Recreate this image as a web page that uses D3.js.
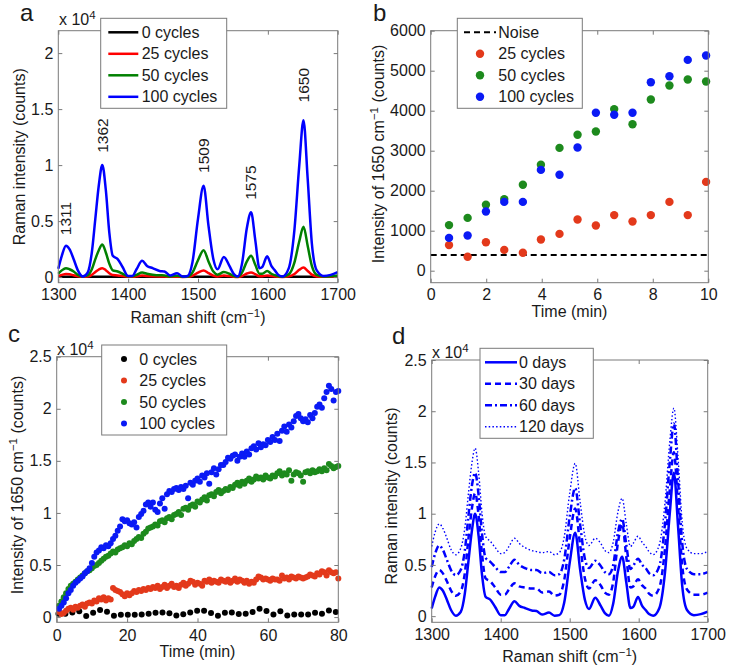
<!DOCTYPE html>
<html><head><meta charset="utf-8">
<script src="https://cdn.jsdelivr.net/npm/d3@7"></script>
<style>
body{margin:0;background:#fff;}
svg{font-family:"Liberation Sans",Arial,Helvetica,sans-serif;}
</style></head><body>
<svg id="chart" width="731" height="669"></svg>
<script>
// ---------------- DATA ----------------
// Panel a / d : Raman shift axis (cm^-1), intensities in units of 1e4 counts
const shift = [1300,1305,1311,1316,1322,1328,1335,1342,1348,1353,1358,1363,1368,1373,1378,1385,1392,1400,1406,1412,1420,1427,1435,1445,1452,1460,1470,1478,1485,1492,1500,1508,1515,1522,1528,1537,1545,1551,1557,1563,1570,1576,1582,1588,1592,1599,1605,1610,1615,1621,1630,1638,1645,1651,1657,1663,1670,1680,1690,1700];
const cycles0 = [0.003,0.003,0.003,0.003,0.003,0.003,0.003,0.003,0.003,0.003,0.003,0.003,0.003,0.003,0.003,0.003,0.003,0.003,0.003,0.003,0.003,0.003,0.003,0.003,0.003,0.003,0.003,0.003,0.003,0.003,0.003,0.003,0.003,0.003,0.003,0.003,0.003,0.003,0.003,0.003,0.003,0.003,0.003,0.003,0.003,0.003,0.003,0.003,0.003,0.003,0.003,0.003,0.003,0.003,0.003,0.003,0.003,0.003,0.003,0.003];
const cycles25 = [0.01,0.02,0.028,0.025,0.016,0.008,0.003,0.006,0.02,0.045,0.068,0.08,0.062,0.035,0.018,0.015,0.009,0.003,0.003,0.007,0.014,0.01,0.008,0.006,0.005,0.003,0.004,0.002,0.003,0.012,0.04,0.06,0.036,0.013,0.006,0.014,0.009,0.004,0.002,0.01,0.032,0.042,0.026,0.007,0.008,0.014,0.009,0.006,0.003,0.002,0.007,0.028,0.065,0.085,0.055,0.022,0.006,0.003,0.003,0.004];
const cycles50 = [0.03,0.06,0.08,0.07,0.05,0.02,0.006,0.015,0.07,0.16,0.24,0.29,0.22,0.12,0.06,0.05,0.03,0.008,0.008,0.02,0.04,0.03,0.022,0.016,0.015,0.006,0.012,0.004,0.005,0.04,0.15,0.24,0.14,0.05,0.022,0.045,0.03,0.01,0.004,0.04,0.14,0.19,0.11,0.03,0.03,0.055,0.03,0.018,0.008,0.004,0.025,0.13,0.32,0.45,0.28,0.1,0.02,0.006,0.008,0.015];
const cycles100 = [0.075,0.19,0.28,0.25,0.16,0.06,0.005,0.04,0.22,0.52,0.82,1.0,0.78,0.4,0.19,0.16,0.09,0.01,0.01,0.07,0.145,0.1,0.08,0.055,0.05,0.015,0.035,0.005,0.01,0.13,0.52,0.815,0.46,0.16,0.07,0.18,0.1,0.03,0.005,0.12,0.44,0.58,0.33,0.08,0.09,0.186,0.1,0.06,0.02,0.005,0.08,0.42,1.0,1.4,0.88,0.3,0.06,0.01,0.02,0.045];
const peakPos = [1311,1363,1508,1575,1651];
const peakText = ["1311","1362","1509","1575","1650"];
const peakTextY = [0.374,1.11,0.93,0.69,1.56];

// Panel d : storage days (units of 1e4 counts)
const days0 = [0.075,0.19,0.28,0.25,0.16,0.06,0.005,0.04,0.22,0.52,0.82,1.0,0.78,0.4,0.19,0.16,0.09,0.01,0.01,0.07,0.145,0.1,0.08,0.055,0.05,0.015,0.035,0.005,0.01,0.13,0.52,0.815,0.46,0.16,0.07,0.18,0.1,0.03,0.005,0.12,0.44,0.58,0.33,0.08,0.09,0.186,0.1,0.06,0.02,0.005,0.08,0.42,1.0,1.4,0.88,0.3,0.06,0.01,0.02,0.045];
const days30 = [0.28,0.39,0.45,0.42,0.34,0.25,0.2,0.24,0.42,0.74,1.04,1.2,0.98,0.6,0.37,0.34,0.28,0.21,0.21,0.26,0.32,0.29,0.28,0.27,0.27,0.23,0.24,0.2,0.21,0.35,0.76,1.05,0.7,0.37,0.27,0.35,0.3,0.23,0.21,0.33,0.72,0.9,0.58,0.28,0.29,0.36,0.3,0.27,0.22,0.2,0.28,0.65,1.23,1.6,1.08,0.5,0.26,0.21,0.21,0.23];
const days60 = [0.48,0.61,0.69,0.65,0.55,0.45,0.4,0.45,0.64,0.96,1.26,1.4,1.18,0.8,0.57,0.53,0.48,0.43,0.43,0.48,0.55,0.5,0.47,0.45,0.45,0.42,0.43,0.4,0.41,0.55,0.97,1.25,0.9,0.56,0.47,0.54,0.49,0.43,0.41,0.5,0.82,0.95,0.7,0.46,0.49,0.56,0.5,0.47,0.42,0.4,0.49,0.9,1.5,1.88,1.33,0.72,0.46,0.41,0.41,0.43];
const days120 = [0.68,0.82,0.9,0.86,0.76,0.65,0.6,0.66,0.86,1.18,1.48,1.64,1.4,1.0,0.78,0.73,0.67,0.61,0.62,0.68,0.76,0.71,0.67,0.64,0.63,0.62,0.63,0.6,0.62,0.77,1.2,1.49,1.12,0.78,0.69,0.76,0.71,0.64,0.62,0.72,1.02,1.15,0.9,0.68,0.71,0.78,0.72,0.68,0.63,0.6,0.7,1.1,1.7,2.03,1.55,0.92,0.66,0.61,0.61,0.63];

// Panel b : time (min) and 1650 cm^-1 intensity (counts)
const timeB = [0.66,1.33,1.99,2.65,3.32,3.97,4.64,5.29,5.95,6.61,7.27,7.93,8.6,9.26,9.92];
const b25 = [640,350,710,520,450,780,920,1280,1130,1390,1230,1390,1720,1390,2220];
const b50 = [1140,1320,1650,1790,2150,2650,3070,3400,3480,4040,3660,4280,4630,4780,4730];
const b100 = [820,880,1480,1720,1720,2520,2400,3080,3950,3900,3950,4710,4860,5270,5380];
const noiseLevel = 390;

// Panel c : intensity in thousands of counts; dense series every 2/3 min, 0 cycles every ~2 min
const cStep = 2/3;
const c0Step = 1.97, c0Start = 0.5;
const c0 = [0.33,0.33,0.45,0.55,0.10,0.42,0.68,0.52,0.13,0.23,0.23,0.23,0.25,0.33,0.42,0.45,0.38,0.15,0.28,0.45,0.6,0.6,0.4,0.12,0.42,0.45,0.3,0.32,0.48,0.8,0.58,0.26,0.56,0.16,0.26,0.26,0.26,0.42,0.32,0.64,0.48];
const c25 = [0.5,0.3,0.4,0.6,0.8,0.9,0.7,1.0,0.9,1.1, 1.2,1.0,1.3,1.4,1.3,1.6,1.5,1.8,1.7,1.9, 1.6,1.8,1.7,2.8,2.6,2.5,2.4,2.2,2.0,2.3, 2.1,2.3,2.5,2.4,2.6,2.5,2.7,2.6,2.8,2.7, 2.9,2.8,3.0,2.7,2.9,3.1,2.8,3.0,3.2,2.9, 3.0,2.8,3.1,3.3,3.0,3.2,3.5,3.4,3.1,3.3, 3.2,3.0,3.5,3.4,3.6,3.3,3.5,3.4,3.3,3.6, 3.5,3.4,3.6,3.3,3.5,3.7,3.4,3.6,3.5,3.3, 3.5,3.2,3.4,3.3,3.6,3.9,3.8,3.6,3.7,3.6, 3.5,3.7,3.6,3.6,3.5,4.0,3.7,3.8,3.6,3.9, 3.8,3.7,3.9,3.8,3.7,3.8,3.9,4.1,4.0,3.9, 4.2,4.1,4.4,4.3,4.0,4.5,4.3,4.2,4.3,3.7];
const c50 = [1.1,1.5,1.9,2.3,2.7,3.0,3.2,3.4,3.6,3.8, 4.0,4.2,4.4,4.5,4.7,4.9,5.0,5.2,5.4,5.6, 5.8,5.9,6.1,6.3,6.2,6.5,6.6,6.7,6.9,6.8, 7.1,7.0,7.3,7.5,7.7,7.6,8.0,8.2,8.5,8.6, 8.7,8.9,8.8,9.2,9.3,9.1,9.5,9.6,9.4,9.8, 9.9,10.1,9.8,10.4,10.5,10.3,10.7,10.8,10.6,11.1, 11.0,11.3,11.5,11.2,11.7,11.8,11.6,12.0,12.2,11.9, 12.1,12.3,12.2,12.5,12.4,12.7,12.9,12.6,13.0,12.8, 13.1,13.3,13.0,13.2,13.5,13.3,13.4,13.2,13.6,13.4, 13.3,13.6,13.5,13.8,14.0,13.6,13.8,13.7,14.1,13.1, 13.7,13.9,13.8,13.6,13.0,13.9,14.0,13.8,14.1,13.9, 14.0,14.2,14.0,14.3,14.1,14.7,14.5,14.3,14.4,14.5];
const c100 = [0.8,1.1,1.4,1.8,2.3,2.6,3.0,3.3,3.5,3.7, 3.9,4.2,4.4,4.7,5.2,5.8,6.2,6.4,6.7,6.6, 6.9,6.8,7.1,7.5,7.8,8.3,8.7,9.4,9.2,9.3, 9.0,8.9,9.1,8.6,9.6,9.9,10.2,10.8,11.0,10.6, 11.0,10.3,10.1,10.9,11.4,10.4,11.8,12.1,12.0,12.3, 12.4,12.2,12.5,12.3,12.6,11.4,12.9,12.7,13.1,13.3, 13.0,13.6,13.4,13.8,12.8,13.9,14.3,13.7,14.2,14.6, 14.6,14.9,15.3,15.2,15.5,15.6,15.0,15.4,15.7,15.4, 15.9,15.6,16.2,16.4,16.1,16.7,16.3,16.6,16.5,17.0, 16.8,17.3,17.0,17.6,16.9,17.9,18.3,17.8,18.5,18.2, 18.8,19.3,19.5,19.1,18.8,19.0,18.7,19.4,19.1,19.6, 20.2,20.4,20.1,21.0,21.6,22.2,21.9,20.8,21.6,21.7];

// Tick values
const shiftTicks = [1300,1400,1500,1600,1700];
const spectrumYTicks = [0,0.5,1,1.5,2];
const spectrumYTicksD = [0,0.5,1,1.5,2,2.5];
const timeTicksB = [0,2,4,6,8,10];
const countTicksB = [0,1000,2000,3000,4000,5000,6000];
const timeTicksC = [0,20,40,60,80];
const countTicksC = [0,5,10,15,20,25];

// ---------------- DRAWING ----------------
const svg = d3.select('#chart');
const AXC = '#7a7a7a', TXT = '#1a1a1a', FS = 16;
const BLUE = '#0000ff', RED = '#ff0000', GREEN = '#008000';
const MRED = '#e3391b', MGREEN = '#1d8a1d', MBLUE = '#0a1af5';

function panel(box, xDom, yDom, xTicks, yTicks, xFmt, yFmt, padX) {
  const g = svg.append('g');
  const x = d3.scaleLinear().domain(xDom).range([box.l, box.r]);
  const y = d3.scaleLinear().domain(yDom).range([box.b, box.t]);
  const dataG = g.append('g');
  const axG = g.append('g');
  const ax = (gen, tr, keep) => {
    const a = axG.append('g').attr('transform', tr).call(gen);
    a.attr('font-family', null).attr('font-size', FS);
    a.select('.domain').remove();
    a.selectAll('line').attr('stroke', AXC);
    a.selectAll('text').attr('fill', TXT);
    if (!keep) a.selectAll('text').remove();
  };
  ax(d3.axisBottom(x).tickValues(xTicks).tickFormat(xFmt).tickSizeInner(-4).tickSizeOuter(0).tickPadding(padX), `translate(0,${box.b})`, true);
  ax(d3.axisTop(x).tickValues(xTicks).tickSizeInner(-4).tickSizeOuter(0), `translate(0,${box.t})`, false);
  ax(d3.axisLeft(y).tickValues(yTicks).tickFormat(yFmt).tickSizeInner(-4).tickSizeOuter(0).tickPadding(5), `translate(${box.l},0)`, true);
  ax(d3.axisRight(y).tickValues(yTicks).tickSizeInner(-4).tickSizeOuter(0), `translate(${box.r},0)`, false);
  axG.append('rect').attr('x', box.l).attr('y', box.t).attr('width', box.r - box.l).attr('height', box.b - box.t)
    .attr('fill', 'none').attr('stroke', AXC).attr('stroke-width', 1);
  return {g, dataG, x, y};
}
function ylabel(parts, cx, cy) {
  const t = svg.append('text').attr('transform', `translate(${cx},${cy}) rotate(-90)`)
    .attr('text-anchor', 'middle').attr('dy', '0.35em').attr('font-size', FS).attr('fill', TXT);
  addParts(t, parts);
}
function xlabel(parts, cx, by) {
  const t = svg.append('text').attr('x', cx).attr('y', by).attr('text-anchor', 'middle').attr('font-size', FS).attr('fill', TXT);
  addParts(t, parts);
}
function addParts(t, parts) {
  parts.forEach(p => {
    if (p.sup) t.append('tspan').attr('dy', '-0.5em').attr('font-size', '0.72em').text(p.sup);
    else if (p.after) t.append('tspan').attr('dy', '0.36em').text(p.after);
    else t.append('tspan').text(p.t);
  });
}
function letter(s, x, y) {
  svg.append('text').attr('x', x).attr('y', y).attr('font-size', 24).attr('fill', TXT).text(s);
}
function multiplier(x, y) {
  const t = svg.append('text').attr('x', x).attr('y', y).attr('font-size', FS).attr('fill', TXT);
  t.append('tspan').text('x 10');
  t.append('tspan').attr('dy', '-0.5em').attr('font-size', '0.72em').text('4');
}
function legendBox(x0, y0, x1, y1) {
  svg.append('rect').attr('x', x0).attr('y', y0).attr('width', x1 - x0).attr('height', y1 - y0)
    .attr('fill', '#fff').attr('stroke', AXC).attr('stroke-width', 1);
}
function legendText(s, x, cy) {
  svg.append('text').attr('x', x).attr('y', cy).attr('dy', '0.35em').attr('font-size', FS).attr('fill', TXT).text(s);
}
const fmtE4 = d => d3.format('~g')(d);
const fmtK = d => d3.format('~g')(d / 10);
const shiftLabel = [{t: 'Raman shift (cm'}, {sup: '\u22121'}, {after: ')'}];

// ---------- Panel a ----------
{
  const P = panel({l: 58.3, t: 30.7, r: 337.7, b: 282.7}, [1300, 1700], [-0.05, 2.2], shiftTicks, spectrumYTicks, d3.format('d'), fmtE4, 6);
  const series = [[cycles0, '#000', '0 cycles'], [cycles25, RED, '25 cycles'], [cycles50, GREEN, '50 cycles'], [cycles100, BLUE, '100 cycles']];
  const line = d3.line().x((d, i) => P.x(shift[i])).y(d => P.y(d)).curve(d3.curveMonotoneX);
  series.forEach(([vals, col]) => {
    P.dataG.append('path').datum(vals).attr('d', line).attr('fill', 'none').attr('stroke', col).attr('stroke-width', 2.5);
  });
  peakPos.forEach((p, i) => {
    svg.append('text').attr('transform', `translate(${P.x(p)},${P.y(peakTextY[i])}) rotate(-90)`)
      .attr('dy', '0.35em').attr('font-size', 15.5).attr('fill', TXT).text(peakText[i]);
  });
  legendBox(100.7, 18.3, 226.7, 108.3);
  const rows = [32.3, 53.8, 75.3, 96.8];
  series.forEach(([vals, col, lab], i) => {
    svg.append('line').attr('x1', 108.3).attr('x2', 138.3).attr('y1', rows[i]).attr('y2', rows[i]).attr('stroke', col).attr('stroke-width', 2.5);
    legendText(lab, 141.7, rows[i]);
  });
  multiplier(59, 25);
  letter('a', 20, 21);
  ylabel([{t: 'Raman intensity (counts)'}], 19.5, 156.7);
  xlabel(shiftLabel, 198, 323);
}

// ---------- Panel b ----------
{
  const P = panel({l: 430.7, t: 30.7, r: 708.3, b: 282.7}, [0, 10], [-300, 6000], timeTicksB, countTicksB, d3.format('d'), d3.format('d'), 6);
  P.dataG.append('line').attr('x1', P.x(0)).attr('x2', P.x(10)).attr('y1', P.y(noiseLevel)).attr('y2', P.y(noiseLevel))
    .attr('stroke', '#000').attr('stroke-width', 2).attr('stroke-dasharray', '6,4');
  const series = [[b25, MRED, '25 cycles'], [b50, MGREEN, '50 cycles'], [b100, MBLUE, '100 cycles']];
  series.forEach(([vals, col]) => {
    P.dataG.selectAll(null).data(vals).enter().append('circle')
      .attr('cx', (d, i) => P.x(timeB[i])).attr('cy', d => P.y(d)).attr('r', 4.2).attr('fill', col);
  });
  legendBox(457.3, 18.3, 582.3, 108.3);
  const rows = [32.3, 53.8, 75.3, 96.8];
  svg.append('line').attr('x1', 464).attr('x2', 496).attr('y1', rows[0]).attr('y2', rows[0]).attr('stroke', '#000').attr('stroke-width', 2).attr('stroke-dasharray', '6,4');
  legendText('Noise', 498.3, rows[0]);
  series.forEach(([vals, col, lab], i) => {
    svg.append('circle').attr('cx', 480).attr('cy', rows[i + 1]).attr('r', 4.2).attr('fill', col);
    legendText(lab, 498.3, rows[i + 1]);
  });
  letter('b', 373, 21);
  ylabel([{t: 'Intensity of 1650 cm'}, {sup: '\u22121'}, {after: ' (counts)'}], 378.5, 154);
  xlabel([{t: 'Time (min)'}], 569.5, 316.5);
}

// ---------- Panel c ----------
{
  const P = panel({l: 56.7, t: 356.7, r: 338.3, b: 622.3}, [0, 80], [-0.5, 25], timeTicksC, countTicksC, d3.format('d'), fmtK, 7);
  const dense = [[c25, MRED], [c50, MGREEN], [c100, MBLUE]];
  P.dataG.selectAll(null).data(c0).enter().append('circle')
    .attr('cx', (d, i) => P.x(c0Start + i * c0Step)).attr('cy', d => P.y(d)).attr('r', 3).attr('fill', '#000');
  dense.forEach(([vals, col]) => {
    P.dataG.selectAll(null).data(vals).enter().append('circle')
      .attr('cx', (d, i) => P.x((i + 1) * cStep)).attr('cy', d => P.y(d)).attr('r', 3).attr('fill', col);
  });
  legendBox(101.7, 345, 226.7, 435);
  const rows = [359, 380.5, 402, 423.5];
  const items = [['#000', '0 cycles'], [MRED, '25 cycles'], [MGREEN, '50 cycles'], [MBLUE, '100 cycles']];
  items.forEach(([col, lab], i) => {
    svg.append('circle').attr('cx', 124).attr('cy', rows[i]).attr('r', 3).attr('fill', col);
    legendText(lab, 139.3, rows[i]);
  });
  multiplier(57, 355);
  letter('c', 8, 342);
  ylabel([{t: 'Intensity of 1650 cm'}, {sup: '\u22121'}, {after: ' (counts)'}], 17.5, 485);
  xlabel([{t: 'Time (min)'}], 197.5, 656.5);
}

// ---------- Panel d ----------
{
  const P = panel({l: 431.7, t: 360, r: 707.7, b: 622.3}, [1300, 1700], [-0.06, 2.5], shiftTicks, spectrumYTicksD, d3.format('d'), fmtE4, 6);
  const styles = [[days0, '0 days', null, 2.5], [days30, '30 days', '6,4', 2.5], [days60, '60 days', '7,3,2,3', 2.5], [days120, '120 days', '1.5,2.2', 1.4]];
  const line = d3.line().x((d, i) => P.x(shift[i])).y(d => P.y(d)).curve(d3.curveMonotoneX);
  styles.forEach(([vals, lab, dash, w]) => {
    P.dataG.append('path').datum(vals).attr('d', line).attr('fill', 'none').attr('stroke', BLUE)
      .attr('stroke-width', w).attr('stroke-dasharray', dash);
  });
  legendBox(480, 348.3, 593.3, 438.3);
  const rows = [362.3, 383.8, 405.3, 426.8];
  styles.forEach(([vals, lab, dash, w], i) => {
    svg.append('line').attr('x1', 485).attr('x2', 517).attr('y1', rows[i]).attr('y2', rows[i]).attr('stroke', BLUE)
      .attr('stroke-width', w).attr('stroke-dasharray', dash);
    legendText(lab, 519, rows[i]);
  });
  multiplier(432, 358);
  letter('d', 392, 344);
  ylabel([{t: 'Raman intensity (counts)'}], 391.5, 496);
  xlabel(shiftLabel, 569.7, 662);
}
</script>
</body></html>
